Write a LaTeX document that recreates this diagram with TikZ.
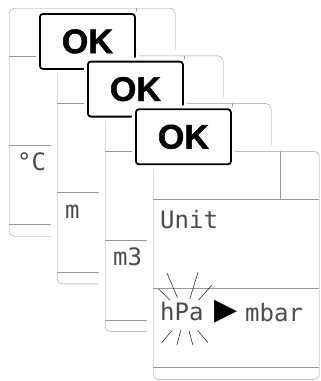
\documentclass[tikz,border=0pt]{standalone}
\usepackage{fontspec}
\newfontfamily\lcdfont{DejaVu Sans Mono}
\newfontfamily\okfont[FakeBold=1.6]{Liberation Sans Bold}
\newfontfamily\symfont{DejaVu Sans}
\usetikzlibrary{positioning}

\begin{document}
\begin{tikzpicture}[x=1pt, y=-1pt,
    screen/.style={draw=gray!80, fill=white, rounded corners=5pt, minimum width=166pt, minimum height=228pt, inner sep=0pt, preaction={draw=white, line width=12pt}},
    div/.style   ={draw=gray!80, line width=0.6pt},
    okbtn/.style ={draw=black, line width=1.8pt, fill=white, rounded corners=3pt, minimum width=95pt, minimum height=55pt, inner sep=0pt,
                   font=\okfont\fontsize{34}{34}\selectfont, preaction={draw=white, line width=8pt}},
    lcd/.style   ={font=\lcdfont\fontsize{24}{24}\selectfont, text=black!70, inner sep=0pt, anchor=base west},
    ray/.style   ={draw=black!80, line width=0.6pt},
  ]
  \useasboundingbox (0,0) rectangle (321,381);

  % stacked screens
  \foreach \i in {1,...,4}{
    \node[screen, anchor=north west] (scr\i) at ({9+48*(\i-1)}, {8+47.7*(\i-1)}) {};
    \draw[div] ([yshift=-48pt]scr\i.north west) -- ([yshift=-48pt]scr\i.north east);
    \draw[div] ([xshift=127pt]scr\i.north west) -- ([xshift=127pt,yshift=-48pt]scr\i.north west);
    \draw[div] ([yshift=-137pt]scr\i.north west) -- ([yshift=-137pt]scr\i.north east);
    \draw[div] ([yshift=12pt]scr\i.south west) -- ([yshift=12pt]scr\i.south east);
  }

  % OK keys
  \foreach \i in {1,2,3}{
    \node[okbtn, anchor=north west] (ok\i) at ([xshift=30pt,yshift=-5pt]scr\i.north west) {OK};
  }

  % display texts
  \node[lcd] (tdeg)  at ([xshift=8pt,yshift=-162pt]scr1.north west) {°C};
  \node[lcd] (tm)    at ([xshift=8pt,yshift=-163pt]scr2.north west) {m};
  \node[lcd] (tm3)   at ([xshift=8pt,yshift=-162pt]scr3.north west) {m3};
  \node[lcd] (tunit) at ([xshift=7pt,yshift=-77pt]scr4.north west) {Unit};
  \node[lcd] (hpa)   at ([xshift=7pt,yshift=-169pt]scr4.north west) {hPa};
  \node[font=\symfont\fontsize{30}{30}\selectfont, inner sep=0pt] (arr) at ([xshift=73.5pt,yshift=-160.5pt]scr4.north west) {▶};
  \node[lcd] (mbar)  at ([xshift=92pt,yshift=-170pt]scr4.north west) {mbar};

  % blinking rays
  \coordinate (glow) at ([xshift=3pt,yshift=-4pt]hpa.center);
  \foreach \a/\r/\s in {48/20/40, 73/17/45, 113/19/46, 135/21/37, 230/20/36, 255/15/31, 285/16/31, 310/20/36}
    \draw[ray] ([shift={(\a:\r pt)}]glow) -- ([shift={(\a:\s pt)}]glow);
\end{tikzpicture}
\end{document}
